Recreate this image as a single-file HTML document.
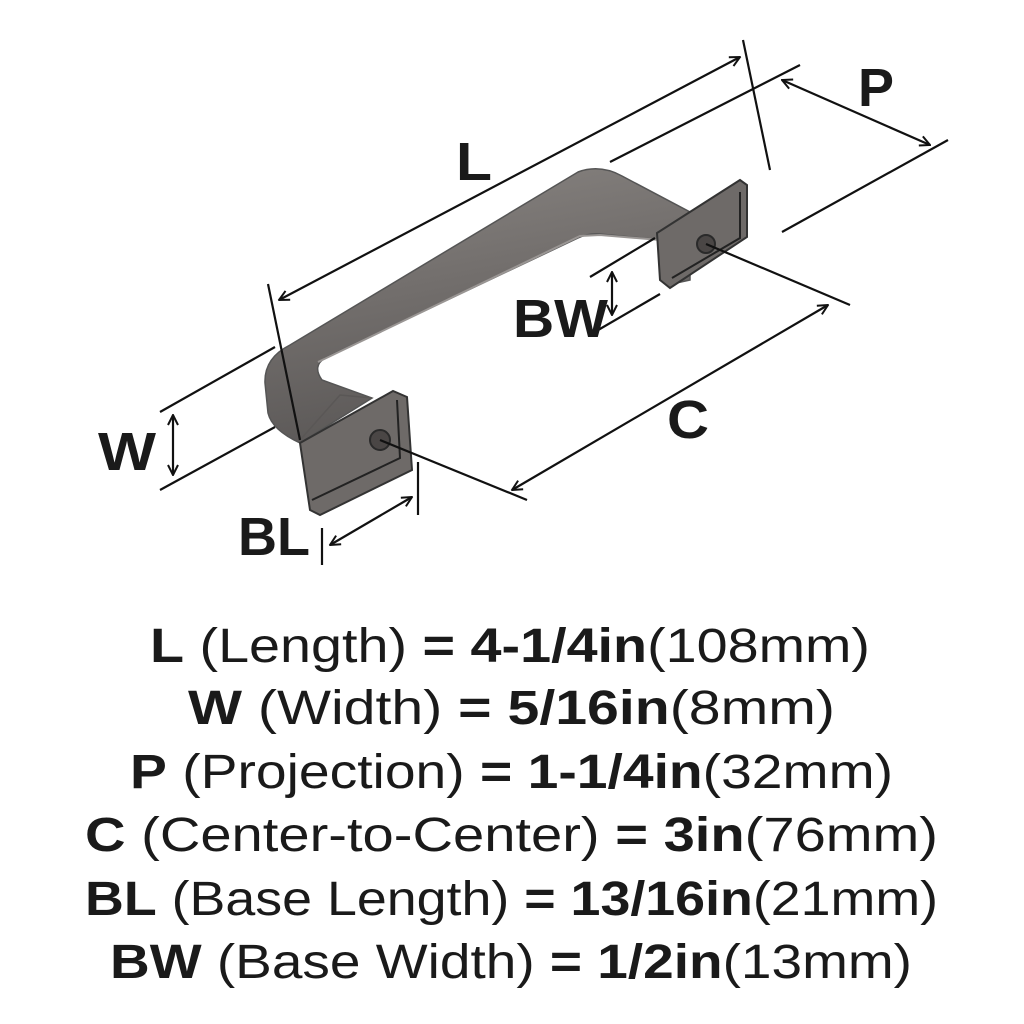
<!DOCTYPE html>
<html><head><meta charset="utf-8"><style>
html,body{margin:0;padding:0;background:#fff;}
svg{display:block}
text{font-family:"Liberation Sans",sans-serif;fill:#1a1a1a}
.b{font-weight:bold}
</style></head><body>
<svg width="1024" height="1024" viewBox="0 0 1024 1024" xmlns="http://www.w3.org/2000/svg">
<defs>
<linearGradient id="g" x1="0" y1="0" x2="0.3" y2="1">
<stop offset="0" stop-color="#8a8683"/><stop offset="0.5" stop-color="#726e6c"/><stop offset="1" stop-color="#5a5756"/>
</linearGradient>
<marker id="a" viewBox="0 0 12 12" refX="11" refY="6" markerWidth="12" markerHeight="12" markerUnits="userSpaceOnUse" orient="auto-start-reverse">
<path d="M1,1 L11,6 L1,11" fill="none" stroke="#111" stroke-width="2"/>
</marker>
</defs>
<path d="M265,383 Q264,358 290,345 L578,172 Q600,164 622,176 L690,212 L690,280 L672,284 L662,240 L600,234 Q588,233 578,238 L325,358 Q312,366 322,380 L372,398 L300,443 Q272,430 268,413 Z" fill="url(#g)" stroke="#555" stroke-width="1.5"/>
<path d="M318,362 L580,236 L600,235 L660,240" fill="none" stroke="#9a9694" stroke-width="2"/>
<path d="M300,440 L340,395 L372,398" fill="none" stroke="#5a5756" stroke-width="1.5"/>
<path d="M300,443 L393,391 L407,397 L412,470 L320,515 L310,510 Z" fill="#6e6a68" stroke="#333" stroke-width="2"/>
<path d="M312,500 L400,458 L397,400" fill="none" stroke="#222" stroke-width="2"/>
<circle cx="380" cy="440" r="10" fill="#4a4645" stroke="#2a2a2a" stroke-width="2"/>
<path d="M657,233 L740,180 L747,185 L747,237 L670,288 L660,280 Z" fill="#6e6a68" stroke="#333" stroke-width="2"/>
<path d="M672,278 L740,238 L740,192" fill="none" stroke="#222" stroke-width="2"/>
<circle cx="706" cy="244" r="9" fill="#4a4645" stroke="#2a2a2a" stroke-width="2"/>
<g stroke="#111" stroke-width="2.2" fill="none">
<line x1="268" y1="284" x2="300" y2="440"/>
<line x1="743" y1="40" x2="770" y2="170"/>
<line x1="279" y1="300" x2="740" y2="57" marker-start="url(#a)" marker-end="url(#a)"/>
<line x1="610" y1="162" x2="800" y2="65"/>
<line x1="782" y1="232" x2="948" y2="140"/>
<line x1="782" y1="80" x2="930" y2="145" marker-start="url(#a)" marker-end="url(#a)"/>
<line x1="160" y1="412" x2="275" y2="347"/>
<line x1="160" y1="490" x2="275" y2="427"/>
<line x1="173" y1="415" x2="173" y2="475" marker-start="url(#a)" marker-end="url(#a)"/>
<line x1="590" y1="277" x2="655" y2="238"/>
<line x1="593" y1="333" x2="660" y2="294"/>
<line x1="612" y1="272" x2="612" y2="315" marker-start="url(#a)" marker-end="url(#a)"/>
<line x1="380" y1="440" x2="527" y2="500"/>
<line x1="706" y1="244" x2="850" y2="305"/>
<line x1="512" y1="490" x2="828" y2="305" marker-start="url(#a)" marker-end="url(#a)"/>
<line x1="418" y1="462" x2="418" y2="515"/>
<line x1="322" y1="528" x2="322" y2="565"/>
<line x1="330" y1="545" x2="412" y2="497" marker-start="url(#a)" marker-end="url(#a)"/>
</g>
<g font-size="54" font-weight="bold">
<text x="456" y="180" textLength="36" lengthAdjust="spacingAndGlyphs">L</text>
<text x="858" y="106" textLength="36" lengthAdjust="spacingAndGlyphs">P</text>
<text x="98" y="470" textLength="58" lengthAdjust="spacingAndGlyphs">W</text>
<text x="513" y="337" textLength="95" lengthAdjust="spacingAndGlyphs">BW</text>
<text x="667" y="438" textLength="42" lengthAdjust="spacingAndGlyphs">C</text>
<text x="238" y="555" textLength="72" lengthAdjust="spacingAndGlyphs">BL</text>
</g>
<g font-size="48">
<text x="150" y="662" textLength="720" lengthAdjust="spacingAndGlyphs"><tspan class="b">L</tspan> (Length) <tspan class="b">= 4-1/4in</tspan>(108mm)</text>
<text x="188" y="724" textLength="647" lengthAdjust="spacingAndGlyphs"><tspan class="b">W</tspan> (Width) <tspan class="b">= 5/16in</tspan>(8mm)</text>
<text x="130" y="788" textLength="763" lengthAdjust="spacingAndGlyphs"><tspan class="b">P</tspan> (Projection) <tspan class="b">= 1-1/4in</tspan>(32mm)</text>
<text x="85" y="851" textLength="853" lengthAdjust="spacingAndGlyphs"><tspan class="b">C</tspan> (Center-to-Center) <tspan class="b">= 3in</tspan>(76mm)</text>
<text x="85" y="915" textLength="853" lengthAdjust="spacingAndGlyphs"><tspan class="b">BL</tspan> (Base Length) <tspan class="b">= 13/16in</tspan>(21mm)</text>
<text x="110" y="978" textLength="802" lengthAdjust="spacingAndGlyphs"><tspan class="b">BW</tspan> (Base Width) <tspan class="b">= 1/2in</tspan>(13mm)</text>
</g>
</svg>
</body></html>
